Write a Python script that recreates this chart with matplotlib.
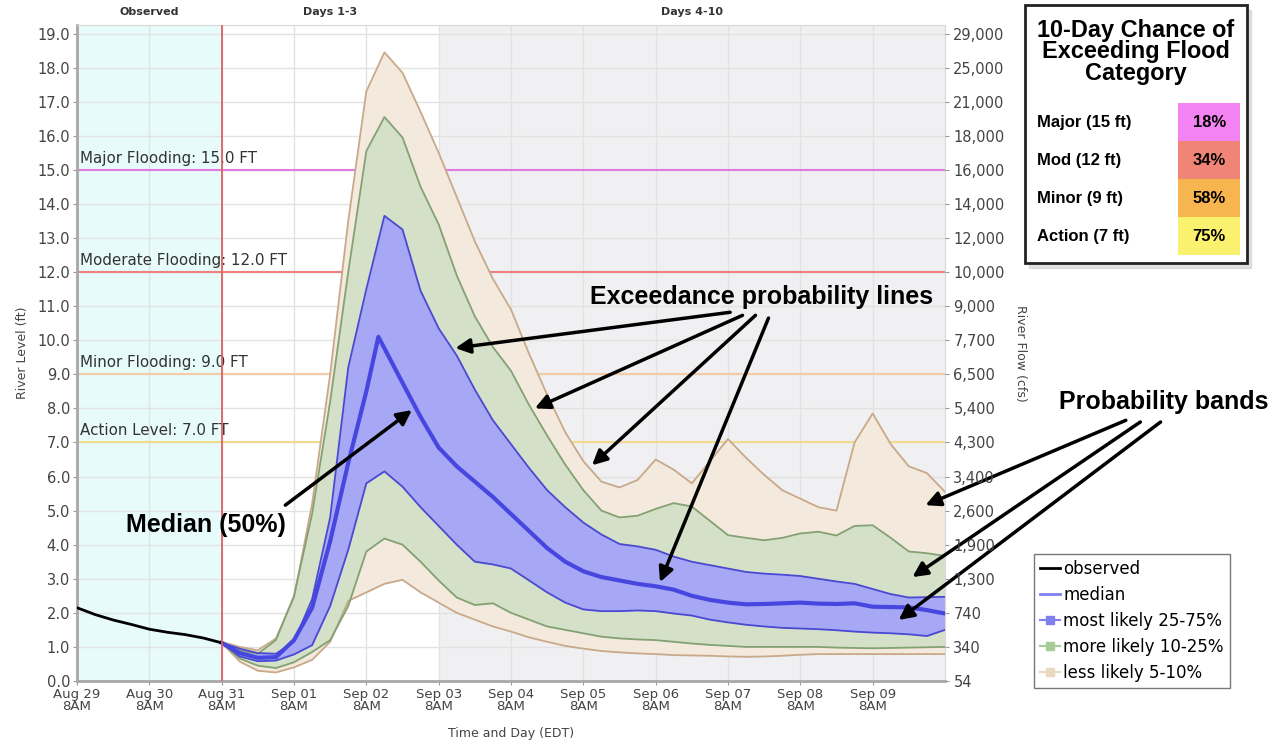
import numpy as np
import matplotlib
matplotlib.use('Agg')
import matplotlib.pyplot as plt
from matplotlib.lines import Line2D
from matplotlib.patches import Rectangle

# hours after Aug 29 8AM
obs_hours = [0, 6, 12, 18, 24, 30, 36, 42, 48]
obs_ft = [2.15, 1.95, 1.79, 1.66, 1.52, 1.43, 1.36, 1.26, 1.12]

fc_hours = list(range(48, 289, 6))
p05 = [1.12, 0.57, 0.30, 0.25, 0.40, 0.62, 1.15, 2.35, 2.60, 2.85, 2.97, 2.60, 2.30, 2.00,
       1.80, 1.60, 1.45, 1.28, 1.15, 1.03, 0.95, 0.88, 0.84, 0.81, 0.79, 0.76, 0.75, 0.74,
       0.72, 0.71, 0.72, 0.74, 0.77, 0.79, 0.79, 0.79, 0.79, 0.79, 0.79, 0.79, 0.79]
p10 = [1.12, 0.66, 0.45, 0.38, 0.55, 0.85, 1.20, 2.20, 3.80, 4.18, 4.00, 3.50, 2.95, 2.45,
       2.23, 2.28, 2.00, 1.80, 1.60, 1.50, 1.40, 1.30, 1.25, 1.22, 1.20, 1.15, 1.10, 1.06,
       1.03, 1.00, 1.00, 1.00, 1.00, 1.00, 0.98, 0.97, 0.96, 0.97, 0.98, 0.99, 1.00]
p25 = [1.12, 0.72, 0.58, 0.60, 0.78, 1.05, 2.20, 3.85, 5.80, 6.15, 5.70, 5.10, 4.55, 4.00,
       3.50, 3.42, 3.30, 2.95, 2.60, 2.30, 2.10, 2.05, 2.05, 2.07, 2.05, 1.98, 1.92, 1.80,
       1.72, 1.65, 1.60, 1.56, 1.54, 1.52, 1.49, 1.45, 1.42, 1.40, 1.37, 1.32, 1.50]
p75 = [1.12, 0.95, 0.82, 0.80, 1.15, 2.40, 4.80, 9.20, 11.50, 13.65, 13.25, 11.45, 10.35, 9.55,
       8.55, 7.65, 6.95, 6.25, 5.60, 5.10, 4.65, 4.30, 4.02, 3.95, 3.85, 3.65, 3.50, 3.40,
       3.30, 3.20, 3.15, 3.12, 3.08, 3.00, 2.92, 2.85, 2.70, 2.55, 2.45, 2.46, 2.47]
p90 = [1.12, 0.90, 0.80, 1.20, 2.50, 4.90, 8.20, 12.00, 15.55, 16.55, 15.95, 14.50, 13.40, 11.90,
       10.70, 9.80, 9.10, 8.10, 7.20, 6.35, 5.60, 5.00, 4.80, 4.85, 5.05, 5.22, 5.12, 4.70,
       4.28, 4.20, 4.13, 4.20, 4.33, 4.38, 4.27, 4.55, 4.57, 4.20, 3.80, 3.75, 3.67]
p95 = [1.15, 1.00, 0.90, 1.25, 2.45, 5.20, 9.00, 13.50, 17.30, 18.45, 17.85, 16.70, 15.50, 14.20,
       12.90, 11.80, 10.90, 9.60, 8.40, 7.30, 6.45, 5.85, 5.68, 5.90, 6.50, 6.20, 5.80, 6.45,
       7.10, 6.55, 6.05, 5.60, 5.35, 5.10, 5.00, 7.00, 7.85, 6.95, 6.30, 6.10, 5.55]

med_hours = [48, 54, 60, 66, 72, 78, 84, 90, 96, 100, 108, 114, 120, 126, 132, 138, 144, 150,
             156, 162, 168, 174, 180, 186, 192, 198, 204, 210, 216, 222, 228, 234, 240, 246,
             252, 258, 264, 270, 276, 282, 288]
med_ft = [1.12, 0.82, 0.68, 0.70, 1.20, 2.15, 4.10, 6.40, 8.50, 10.10, 8.75, 7.75, 6.85, 6.30,
          5.85, 5.40, 4.90, 4.40, 3.90, 3.50, 3.22, 3.05, 2.95, 2.85, 2.78, 2.68, 2.50, 2.38,
          2.30, 2.25, 2.26, 2.28, 2.30, 2.27, 2.26, 2.28, 2.18, 2.17, 2.16, 2.08, 1.98]

day_labels = ['Aug 29', 'Aug 30', 'Aug 31', 'Sep 01', 'Sep 02', 'Sep 03', 'Sep 04',
              'Sep 05', 'Sep 06', 'Sep 07', 'Sep 08', 'Sep 09']
flow_labels = ['54', '340', '740', '1,300', '1,900', '2,600', '3,400', '4,300', '5,400', '6,500',
               '7,700', '9,000', '10,000', '12,000', '14,000', '16,000', '18,000', '21,000',
               '25,000', '29,000']

flood_names = ['Major Flooding', 'Moderate Flooding', 'Minor Flooding', 'Action Level']
flood_ft = [15.0, 12.0, 9.0, 7.0]
flood_colors = ['#e27ae2', '#ee8080', '#f5caa6', '#f0dc8c']

cat_labels = ['Major (15 ft)', 'Mod (12 ft)', 'Minor (9 ft)', 'Action (7 ft)']
cat_chance = [18, 34, 58, 75]
cat_colors = ['#f383f3', '#f08476', '#f6b54e', '#faf26e']

TAN_F, TAN_E = '#f3e9dc', '#c8a98a'
GRN_F, GRN_E = '#d4e1c8', '#84a174'
BLU_F, BLU_E = '#a6a8f5', '#4949d2'

fig = plt.figure(figsize=(12.68, 7.42), dpi=100)
ax = fig.add_axes([77 / 1268, 61 / 742, 868 / 1268, 656 / 742])

xo = np.array(obs_hours) / 24
xf = np.array(fc_hours) / 24
xm = np.array(med_hours) / 24

ax.set_xlim(0, 12)
ax.set_ylim(0, 19.25)

# period shading
ax.axvspan(0, 2, color='#e8fbfb', zorder=0, lw=0)
ax.axvspan(5, 12, color='#f0f0f2', zorder=0, lw=0)
ax.set_yticks(range(20))
ax.set_xticks(range(12))
ax.grid(True, color='#e2e2e2', lw=1, zorder=0.5)
ax.set_axisbelow(True)

# probability bands
ax.fill_between(xf, p05, p95, color=TAN_F, lw=0, zorder=2)
ax.fill_between(xf, p10, p90, color=GRN_F, lw=0, zorder=2)
ax.fill_between(xf, p25, p75, color=BLU_F, lw=0, zorder=2)
for vals, c in [(p05, TAN_E), (p95, TAN_E), (p10, GRN_E), (p90, GRN_E), (p25, BLU_E), (p75, BLU_E)]:
    ax.plot(xf, vals, color=c, lw=1.3, zorder=3)
ax.plot(xm, med_ft, color='#4747e0', lw=3, zorder=4)
ax.plot(xo, obs_ft, color='black', lw=2, zorder=4)

# flood stages
for name, ft, c in zip(flood_names, flood_ft, flood_colors):
    ax.axhline(ft, color=c, lw=1.5, zorder=1.5)
    ax.text(0.04, ft + 0.12, f'{name}: {ft:.1f} FT', fontsize=10.9, color='#333333',
            va='bottom', ha='left', zorder=5)
ax.axvline(2, color='#e06060', lw=1.3, zorder=5)

# period labels above the plot
for lbl, xc in [('Observed', 1), ('Days 1-3', 3.5), ('Days 4-10', 8.5)]:
    ax.text(xc, 19.63, lbl, fontsize=8, fontweight='bold', color='#333333',
            ha='center', va='center', clip_on=False)

ax.set_yticklabels([f'{v:.1f}' for v in range(20)], fontsize=10.5, color='#444444')
ax.set_xticklabels([f'{d}\n8AM' for d in day_labels], fontsize=9.5, color='#444444',
                   linespacing=0.95)
ax.tick_params(length=3, color='#999999', pad=2)
ax.set_ylabel('River Level (ft)', fontsize=9, color='#444444', labelpad=6)
ax.set_xlabel('Time and Day (EDT)', fontsize=9, color='#444444', labelpad=10)
for side in ['left', 'bottom']:
    ax.spines[side].set_color('#a8a8a8')
    ax.spines[side].set_linewidth(2)
for side in ['top', 'right']:
    ax.spines[side].set_color('#d8d8d8')

ax2 = ax.twinx()
ax2.set_ylim(0, 19.25)
ax2.set_yticks(range(20))
ax2.set_yticklabels(flow_labels, fontsize=10.5, color='#444444')
ax2.tick_params(length=3, color='#999999', pad=3)
ax2.set_ylabel('River Flow (cfs)', fontsize=9, color='#444444', rotation=270, labelpad=16)
for s in ax2.spines.values():
    s.set_visible(False)

# callouts
arrow = dict(arrowstyle='-|>', color='black', lw=2.5, mutation_scale=22, shrinkA=0, shrinkB=0)
fnt = dict(fontsize=18, fontweight='bold', family='Liberation Sans')
ax.text(9.47, 11.26, 'Exceedance probability lines', ha='center', va='center', zorder=6, **fnt)
for (x0, y0), (x1, y1) in [((9.03, 10.82), (5.23, 9.77)), ((9.20, 10.73), (6.33, 8.0)),
                           ((9.38, 10.73), (7.12, 6.33)), ((9.56, 10.65), (8.06, 2.9))]:
    ax.annotate('', xy=(x1, y1), xytext=(x0, y0), arrowprops=arrow, zorder=6)
ax.text(1.78, 4.57, 'Median (50%)', ha='center', va='center', zorder=6, **fnt)
ax.annotate('', xy=(4.63, 7.95), xytext=(2.88, 5.16), arrowprops=arrow, zorder=6)
ax.text(16.47, 8.18, 'Probability bands', ha='right', va='center', clip_on=False, **fnt)
for (x0, y0), (x1, y1) in [((14.5, 7.65), (11.73, 5.16)), ((14.7, 7.6), (11.55, 3.05)),
                           ((14.98, 7.6), (11.36, 1.79))]:
    ax.annotate('', xy=(x1, y1), xytext=(x0, y0), arrowprops=arrow, annotation_clip=False,
                zorder=6)

handles = [Line2D([], [], color='black', lw=2),
           Line2D([], [], color='#8080f0', lw=2),
           Line2D([], [], color='#8080f0', lw=1.5, marker='s', ms=6),
           Line2D([], [], color='#a8cc98', lw=1.5, marker='s', ms=6),
           Line2D([], [], color='#ead8c0', lw=1.5, marker='s', ms=6)]
fig.legend(handles, ['observed', 'median', 'most likely 25-75%', 'more likely 10-25%',
                     'less likely 5-10%'],
           loc='upper left', bbox_to_anchor=(1034 / 1268, 1 - 554 / 742), fontsize=12,
           frameon=True, fancybox=False, edgecolor='#555555', handlelength=1.2,
           handletextpad=0.2, borderpad=0.35, labelspacing=0.48, borderaxespad=0)

# chance-of-exceeding table
tab = fig.add_axes([1025 / 1268, 1 - 263 / 742, 222 / 1268, 258 / 742])
tab.set_xlim(0, 1)
tab.set_ylim(0, 1)
tab.axis('off')
tab.add_patch(Rectangle((0.02, -0.02), 1, 1, color='#cccccc', alpha=0.6, clip_on=False, zorder=0))
tab.add_patch(Rectangle((0, 0), 1, 1, facecolor='white', edgecolor='#222222', lw=2,
                        clip_on=False, zorder=1))
tab.text(0.5, 0.818, '10-Day Chance of\nExceeding Flood\nCategory', ha='center', va='center',
         fontsize=16.9, fontweight='bold', family='Liberation Sans', linespacing=0.9, zorder=2)
row_h = 0.1475
for i, (lbl, pct, c) in enumerate(zip(cat_labels, cat_chance, cat_colors)):
    top = 0.62 - i * row_h
    tab.add_patch(Rectangle((0.689, top - row_h), 0.279, row_h, color=c, lw=0, zorder=2))
    tab.text(0.054, top - row_h / 2, lbl, ha='left', va='center', fontsize=12,
             fontweight='bold', family='Liberation Sans', zorder=3)
    tab.text(0.83, top - row_h / 2, f'{pct}%', ha='center', va='center', fontsize=12,
             fontweight='bold', family='Liberation Sans', zorder=3)

fig.savefig('out.png', dpi=100)
